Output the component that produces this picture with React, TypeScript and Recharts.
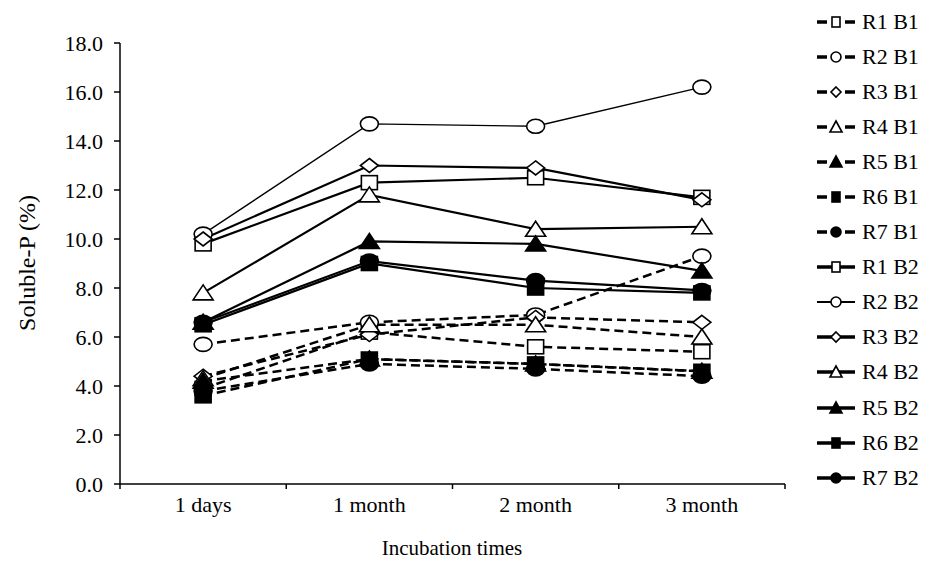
import React from 'react';
import { LineChart, Line, XAxis, YAxis } from 'recharts';

const categories = ['1 days', '1 month', '2 month', '3 month'];

const R1B1 = [3.9, 6.2, 5.6, 5.4];
const R2B1 = [5.7, 6.6, 6.9, 9.3];
const R3B1 = [4.4, 6.1, 6.8, 6.6];
const R4B1 = [4.3, 6.5, 6.5, 6.0];
const R5B1 = [4.2, 5.1, 4.9, 4.6];
const R6B1 = [3.6, 5.1, 4.9, 4.6];
const R7B1 = [3.8, 4.9, 4.7, 4.4];
const R1B2 = [9.8, 12.3, 12.5, 11.7];
const R2B2 = [10.2, 14.7, 14.6, 16.2];
const R3B2 = [10.0, 13.0, 12.9, 11.6];
const R4B2 = [7.8, 11.8, 10.4, 10.5];
const R5B2 = [6.6, 9.9, 9.8, 8.7];
const R6B2 = [6.5, 9.0, 8.0, 7.8];
const R7B2 = [6.6, 9.1, 8.3, 7.9];

const yTicks = [0, 2, 4, 6, 8, 10, 12, 14, 16, 18];

type Shape = 'square' | 'circle' | 'diamond' | 'triangle';

const seriesList: { key: string; name: string; values: number[]; shape: Shape; filled: boolean; dashed: boolean; width: number }[] = [
  { key: 'r1b1', name: 'R1 B1', values: R1B1, shape: 'square', filled: false, dashed: true, width: 2.5 },
  { key: 'r2b1', name: 'R2 B1', values: R2B1, shape: 'circle', filled: false, dashed: true, width: 2.5 },
  { key: 'r3b1', name: 'R3 B1', values: R3B1, shape: 'diamond', filled: false, dashed: true, width: 2.5 },
  { key: 'r4b1', name: 'R4 B1', values: R4B1, shape: 'triangle', filled: false, dashed: true, width: 2.5 },
  { key: 'r5b1', name: 'R5 B1', values: R5B1, shape: 'triangle', filled: true, dashed: true, width: 2.5 },
  { key: 'r6b1', name: 'R6 B1', values: R6B1, shape: 'square', filled: true, dashed: true, width: 2.5 },
  { key: 'r7b1', name: 'R7 B1', values: R7B1, shape: 'circle', filled: true, dashed: true, width: 2.5 },
  { key: 'r1b2', name: 'R1 B2', values: R1B2, shape: 'square', filled: false, dashed: false, width: 2.2 },
  { key: 'r2b2', name: 'R2 B2', values: R2B2, shape: 'circle', filled: false, dashed: false, width: 1.4 },
  { key: 'r3b2', name: 'R3 B2', values: R3B2, shape: 'diamond', filled: false, dashed: false, width: 2.2 },
  { key: 'r4b2', name: 'R4 B2', values: R4B2, shape: 'triangle', filled: false, dashed: false, width: 2.2 },
  { key: 'r5b2', name: 'R5 B2', values: R5B2, shape: 'triangle', filled: true, dashed: false, width: 2.2 },
  { key: 'r6b2', name: 'R6 B2', values: R6B2, shape: 'square', filled: true, dashed: false, width: 2.2 },
  { key: 'r7b2', name: 'R7 B2', values: R7B2, shape: 'circle', filled: true, dashed: false, width: 2.2 },
];

const data = categories.map((c, i) => {
  const row: Record<string, string | number> = { name: c };
  seriesList.forEach(s => { row[s.key] = s.values[i]; });
  return row;
});

const FONT = '"Liberation Serif", "Times New Roman", serif';

const Marker = ({ cx, cy, shape, filled, w = 9, h = 7 }: { cx: number; cy: number; shape: Shape; filled: boolean; w?: number; h?: number }) => {
  const fill = filled ? '#000' : '#fff';
  const common = { fill, stroke: '#000', strokeWidth: 1.6 };
  if (shape === 'square') return <rect x={cx - w + 1} y={cy - h} width={(w - 1) * 2} height={h * 2} {...common} />;
  if (shape === 'circle') return <ellipse cx={cx} cy={cy} rx={w} ry={h} {...common} />;
  if (shape === 'diamond') return <polygon points={`${cx},${cy - h} ${cx + w},${cy} ${cx},${cy + h} ${cx - w},${cy}`} {...common} />;
  return <polygon points={`${cx},${cy - h - 1} ${cx + w + 1},${cy + h} ${cx - w - 1},${cy + h}`} {...common} />;
};

const dotFor = (shape: Shape, filled: boolean) => (props: any) => {
  const { cx, cy, index } = props;
  return <Marker key={`d-${index}`} cx={cx} cy={cy} shape={shape} filled={filled} />;
};

const BAND = (785 - 120) / 4;

const XTick = (props: any) => {
  const { x, y, payload, index } = props;
  return (
    <g>
      <line x1={x - BAND / 2} x2={x - BAND / 2} y1={y - 8} y2={y - 3} stroke="#000" strokeWidth={1.5} />
      {index === categories.length - 1 && (
        <line x1={x + BAND / 2} x2={x + BAND / 2} y1={y - 8} y2={y - 3} stroke="#000" strokeWidth={1.5} />
      )}
      <text x={x} y={y + 20} textAnchor="middle" fontFamily={FONT} fontSize={22} fill="#000">
        {payload.value}
      </text>
    </g>
  );
};

const YLabel = () => (
  <text
    x={0}
    y={0}
    transform="translate(35, 263) rotate(-90)"
    textAnchor="middle"
    fontFamily={FONT}
    fontSize={24}
    fill="#000"
  >
    Soluble-P (%)
  </text>
);

const XLabel = () => (
  <text x={452} y={555} textAnchor="middle" fontFamily={FONT} fontSize={21} fill="#000">
    Incubation times
  </text>
);

const LegendBox = () => (
  <div style={{ position: 'absolute', left: 815, top: 4, fontFamily: FONT, fontSize: 22, color: '#000' }}>
    {seriesList.map(s => (
      <div key={s.key} style={{ display: 'flex', alignItems: 'center', height: 35.1, whiteSpace: 'nowrap' }}>
        <svg width={42} height={20} style={{ marginRight: 5 }}>
          {s.dashed ? (
            <>
              <line x1={2} x2={12} y1={10} y2={10} stroke="#000" strokeWidth={3.5} />
              <line x1={30} x2={40} y1={10} y2={10} stroke="#000" strokeWidth={3.5} />
            </>
          ) : (
            <line x1={2} x2={40} y1={10} y2={10} stroke="#000" strokeWidth={s.width > 2 ? 3.5 : 2} />
          )}
          <Marker cx={21} cy={10} shape={s.shape} filled={s.filled} w={5} h={5} />
        </svg>
        <span>{s.name}</span>
      </div>
    ))}
  </div>
);

export default function App() {
  return (
    <div style={{ position: 'absolute', left: 0, top: 0, width: 942, height: 562, background: '#fff' }}>
      <LineChart width={942} height={562} data={data} margin={{ top: 43, right: 157, left: 0, bottom: 0 }}>
        <XAxis
          dataKey="name"
          height={78}
          padding={{ left: BAND / 2, right: BAND / 2 }}
          tick={<XTick />}
          tickLine={false}
          axisLine={{ stroke: '#000', strokeWidth: 1.5 }}
          label={<XLabel />}
        />
        <YAxis
          width={120}
          domain={[0, 18]}
          ticks={yTicks}
          interval={0}
          tickFormatter={(v: number) => v.toFixed(1)}
          tick={{ fontFamily: FONT, fontSize: 22, fill: '#000' }}
          tickLine={{ stroke: '#000', strokeWidth: 1.5 }}
          tickSize={6}
          tickMargin={11}
          axisLine={{ stroke: '#000', strokeWidth: 1.5 }}
          label={<YLabel />}
        />
        {seriesList.map(s => (
          <Line
            key={s.key}
            dataKey={s.key}
            name={s.name}
            stroke="#000"
            strokeWidth={s.width}
            strokeDasharray={s.dashed ? '9 5' : undefined}
            dot={dotFor(s.shape, s.filled)}
            activeDot={false}
            isAnimationActive={false}
          />
        ))}
      </LineChart>
      <LegendBox />
    </div>
  );
}
